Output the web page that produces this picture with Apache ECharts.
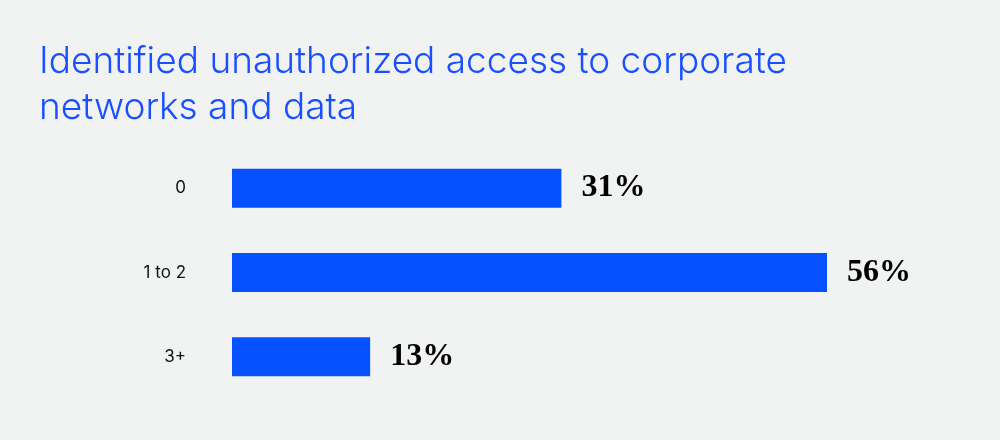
<!DOCTYPE html>
<html><head><meta charset="utf-8">
<script src="https://cdn.jsdelivr.net/npm/echarts@6/dist/echarts.min.js"></script>
<style>html,body{margin:0;background:#f1f3f3}#c{width:1000px;height:440px}</style>
</head><body><div id="c"></div>
<script>
const categories = ['0', '1 to 2', '3+'];
const values = [31, 56, 13];
const chart = echarts.init(document.getElementById('c'));
chart.setOption({
  backgroundColor: '#f1f3f3',
  title: {
    text: 'Identified unauthorized access to corporate\nnetworks and data',
    left: 34, top: 34,
    textStyle: { color: '#1a4fff', fontFamily: 'Inter', fontWeight: 300, fontSize: 37, lineHeight: 46 }
  },
  grid: { left: 232, top: 146, width: 595, height: 253 },
  xAxis: { type: 'value', min: 0, max: 56, show: false },
  yAxis: {
    type: 'category', data: categories, inverse: true,
    axisLine: { show: false }, axisTick: { show: false },
    axisLabel: { color: '#111', fontFamily: 'Inter', fontSize: 17, margin: 46 }
  },
  series: [{
    type: 'bar', data: values, barWidth: 39,
    itemStyle: { color: '#0550ff' },
    label: {
      show: true, position: 'right', distance: 20, formatter: '{c}%',
      color: '#000', fontFamily: 'Liberation Sans Narrow', fontWeight: 'bold', fontSize: 32
    }
  }]
});
</script></body></html>
